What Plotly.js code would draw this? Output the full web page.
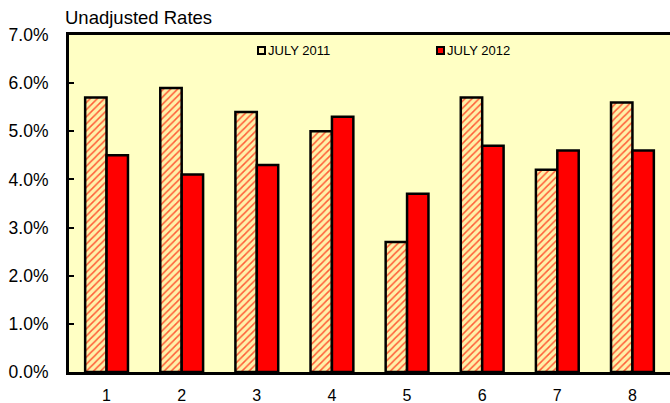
<!DOCTYPE html>
<html>
<head>
<meta charset="utf-8">
<script src="https://cdn.plot.ly/plotly-3.0.1.min.js"></script>
<style>html,body{margin:0;padding:0;background:#fff;}#chart{width:670px;height:403px;}</style>
</head>
<body>
<div id="chart"></div>
<script>
var categories = ["1", "2", "3", "4", "5", "6", "7", "8"];
var seriesNames = ["JULY 2011", "JULY 2012"];
var july2011 = [0.057, 0.059, 0.054, 0.050, 0.027, 0.057, 0.042, 0.056];
var july2012 = [0.045, 0.041, 0.043, 0.053, 0.037, 0.047, 0.046, 0.046];
var yTickVals = [0, 0.01, 0.02, 0.03, 0.04, 0.05, 0.06, 0.07];

var font = "Arial, 'Liberation Sans', sans-serif";

var trace2011 = {
  type: "bar", x: categories, y: july2011, name: seriesNames[0],
  marker: {
    color: "#FFE89A",
    line: {color: "#000", width: 2.5},
    pattern: {shape: "/", fgcolor: "#FF2A10", bgcolor: "#FFF0A8", size: 5, solidity: 0.3, fgopacity: 0.75}
  },
  hoverinfo: "skip"
};
var trace2012 = {
  type: "bar", x: categories, y: july2012, name: seriesNames[1],
  marker: {color: "#FF0000", line: {color: "#000", width: 2.5}},
  hoverinfo: "skip"
};

var layout = {
  width: 670, height: 403,
  margin: {l: 69, r: 0, t: 35, b: 31},
  paper_bgcolor: "#FFFFFF",
  plot_bgcolor: "#FFFFC4",
  showlegend: false,
  barmode: "group",
  bargap: 0.43,
  bargroupgap: 0,
  title: {
    text: "Unadjusted Rates",
    font: {family: font, size: 18.5, color: "#000"},
    x: 65 / 670, xanchor: "left", xref: "container",
    y: 1 - 18 / 403, yanchor: "middle", yref: "container"
  },
  xaxis: {
    type: "category",
    showline: true, linecolor: "#000", linewidth: 3, mirror: true,
    showgrid: false, zeroline: false,
    ticks: "",
    tickfont: {family: font, size: 16, color: "#000"},
    ticklabelstandoff: 7
  },
  yaxis: {
    range: [0, 0.07],
    tickvals: yTickVals,
    tickformat: ".1%",
    showline: true, linecolor: "#000", linewidth: 3,
    showgrid: false, zeroline: false,
    ticks: "inside", ticklen: 5, tickwidth: 2, tickcolor: "#000",
    tickfont: {family: font, size: 17.5, color: "#000"},
    ticklabelstandoff: 14
  },
  shapes: [
    {type: "rect", xref: "paper", yref: "paper", x0: (258 - 69) / 601, x1: (265 - 69) / 601,
     y0: 1 - (54 - 35) / 337, y1: 1 - (47 - 35) / 337,
     fillcolor: "#FFF2B0", line: {color: "#000", width: 2}},
    {type: "rect", xref: "paper", yref: "paper", x0: (437 - 69) / 601, x1: (444 - 69) / 601,
     y0: 1 - (54 - 35) / 337, y1: 1 - (47 - 35) / 337,
     fillcolor: "#FF0000", line: {color: "#000", width: 2}}
  ],
  annotations: [
    {text: seriesNames[0], xref: "paper", yref: "paper", x: (266 - 69) / 601, xanchor: "left",
     y: 1 - (51 - 35) / 337, yanchor: "middle", showarrow: false,
     font: {family: font, size: 13, color: "#000"}},
    {text: seriesNames[1], xref: "paper", yref: "paper", x: (445 - 69) / 601, xanchor: "left",
     y: 1 - (51 - 35) / 337, yanchor: "middle", showarrow: false,
     font: {family: font, size: 13, color: "#000"}}
  ]
};

Plotly.newPlot("chart", [trace2011, trace2012], layout, {displayModeBar: false, staticPlot: true});
</script>
</body>
</html>
